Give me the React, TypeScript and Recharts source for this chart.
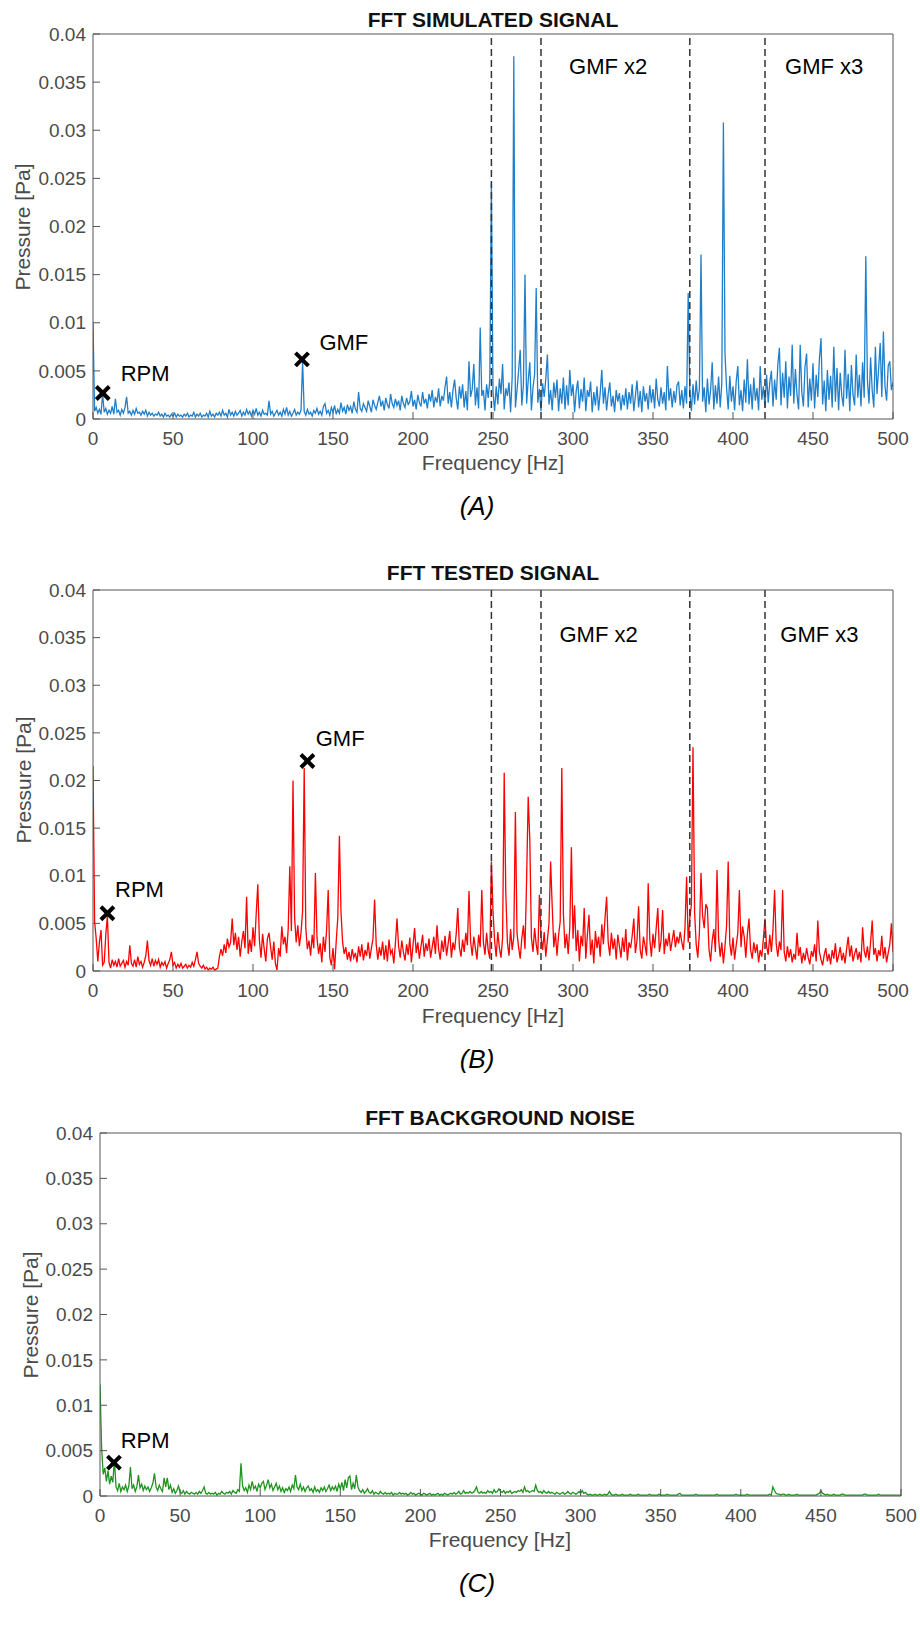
/**
 * FftPanels — three stacked FFT spectra (simulated, tested, background noise)
 * drawn with Recharts in a MATLAB-like boxed style.
 */

import { ComposedChart, Line, XAxis, YAxis, ReferenceLine, ReferenceDot } from "recharts";

const FONT = '"Liberation Sans", Arial, Helvetica, sans-serif';

// Spectra: one bin per Hz from 0 to 500 Hz, pressure in mPa (axis shows Pa).
const SIMULATED_MPA = [
  10.0, 0.8, 1.2, 0.6, 1.0, 0.5, 2.6, 0.7, 1.1, 0.5,
  0.9, 0.6, 1.3, 0.5, 2.1, 0.7, 0.9, 0.4, 1.0, 0.6,
  1.2, 2.3, 0.6, 0.8, 0.4, 0.9, 0.5, 1.1, 0.6, 0.7,
  0.4, 0.8, 0.5, 0.9, 0.3, 0.7, 0.4, 0.6, 0.3, 0.5,
  0.4, 0.7, 0.3, 0.5, 0.2, 0.6, 0.3, 0.4, 0.2, 0.5,
  0.3, 0.6, 0.2, 0.5, 0.3, 0.4, 0.2, 0.5, 0.3, 0.6,
  0.2, 0.4, 0.3, 0.7, 0.2, 0.5, 0.3, 0.6, 0.2, 0.4,
  0.3, 0.6, 0.2, 0.8, 0.3, 0.5, 0.2, 0.6, 0.4, 0.7,
  0.3, 0.9, 0.4, 0.6, 0.2, 1.0, 0.4, 0.7, 0.3, 0.8,
  0.4, 0.6, 0.9, 0.3, 0.7, 0.4, 1.0, 0.5, 0.8, 0.3,
  0.9, 0.5, 1.1, 0.4, 0.7, 0.3, 0.9, 0.5, 0.6, 0.4,
  1.9, 0.5, 0.8, 0.3, 0.6, 0.9, 0.4, 0.7, 0.3, 1.0,
  0.5, 1.2, 0.4, 0.8, 0.3, 0.6, 1.0, 0.4, 0.7, 0.5,
  0.9, 6.0, 0.8, 0.4, 1.0, 0.5, 0.7, 0.3, 0.9, 0.6,
  1.1, 0.5, 0.8, 0.4, 1.3, 1.6, 0.6, 0.9, 0.4, 1.2,
  0.7, 1.4, 0.5, 1.0, 0.6, 1.7, 0.8, 1.2, 0.5, 1.5,
  0.9, 1.3, 0.6, 1.8, 1.0, 0.7, 2.8, 1.1, 0.8, 1.6,
  1.2, 0.8, 1.9, 1.3, 0.7, 2.0, 1.4, 1.0, 1.7, 2.4,
  1.3, 1.9, 0.9, 2.2, 1.5, 1.1, 2.6, 1.6, 1.2, 2.1,
  1.4, 1.9, 0.9, 2.4, 1.6, 1.2, 2.2, 1.5, 1.8, 2.9,
  1.3, 2.0, 1.0, 2.5, 1.7, 1.3, 2.8, 1.6, 2.1, 1.1,
  2.6, 1.8, 3.0, 1.2, 2.3, 1.7, 3.2, 1.3, 2.4, 1.9,
  3.3, 4.4, 1.6, 2.8, 1.2, 3.0, 4.1, 2.2, 1.0, 3.4,
  2.1, 3.6, 1.2, 2.9, 0.9, 6.0, 2.3, 3.1, 5.7, 1.4,
  3.3, 1.1, 9.5, 2.4, 3.0, 0.9, 3.6, 2.2, 4.0, 24.5,
  2.8, 0.8, 3.4, 1.5, 4.2, 2.6, 5.7, 1.0, 3.2, 2.4,
  3.8, 0.7, 4.4, 37.7, 1.2, 3.0, 5.0, 7.2, 1.4, 3.5,
  15.0, 1.6, 4.0, 5.9, 0.9, 3.3, 4.6, 13.6, 1.7, 3.1,
  0.8, 3.7, 2.3, 4.2, 6.7, 1.5, 3.0, 0.9, 3.8, 2.2,
  4.1, 0.8, 3.2, 1.6, 4.3, 1.0, 3.5, 1.4, 5.1, 2.4,
  3.6, 0.7, 2.9, 4.0, 1.1, 3.1, 1.8, 4.3, 0.8, 3.0,
  2.3, 3.9, 0.7, 2.8, 1.4, 3.4, 0.9, 2.7, 5.1, 1.6,
  3.3, 0.9, 2.6, 3.8, 1.3, 2.4, 0.7, 3.0, 1.8, 2.7,
  0.9, 2.5, 1.4, 3.2, 1.0, 2.8, 1.6, 3.6, 0.8, 2.4,
  4.0, 1.2, 2.9, 0.7, 3.4, 1.8, 2.7, 1.0, 3.5, 1.7,
  3.1, 1.1, 4.2, 2.0, 1.3, 3.3, 1.6, 2.8, 0.9, 5.5,
  1.9, 3.2, 1.2, 2.9, 1.7, 3.5, 3.9, 1.4, 3.0, 1.1,
  3.4, 1.6, 13.1, 2.8, 0.8, 3.6, 1.5, 4.0, 1.9, 3.1,
  17.1, 1.8, 3.3, 0.7, 4.2, 1.5, 3.0, 5.9, 1.0, 3.5,
  1.6, 4.4, 1.2, 3.7, 30.8, 6.8, 3.2, 1.0, 4.5, 1.8,
  3.4, 0.9, 3.9, 5.5, 1.4, 3.0, 0.8, 4.1, 1.7, 6.2,
  1.5, 3.6, 1.0, 4.3, 1.9, 3.2, 0.9, 5.5, 2.0, 3.4,
  1.2, 4.6, 1.7, 3.8, 5.0, 1.3, 4.1, 2.0, 5.6, 7.4,
  1.4, 4.8, 2.2, 6.0, 1.1, 4.4, 2.4, 7.7, 1.6, 5.2,
  2.5, 1.0, 7.7, 2.8, 1.3, 5.4, 6.8, 1.2, 4.2, 1.9,
  5.8, 1.1, 4.6, 2.3, 6.2, 8.4, 1.5, 4.0, 0.8, 5.1,
  2.0, 4.5, 1.2, 7.5, 1.8, 5.3, 0.9, 4.8, 2.4, 1.3,
  7.2, 2.1, 4.7, 0.8, 5.6, 2.5, 1.4, 6.7, 2.2, 4.6,
  1.3, 5.9, 2.2, 16.9, 4.1, 1.6, 6.4, 3.0, 1.2, 7.5,
  2.6, 5.2, 7.9, 2.3, 9.1, 3.4, 1.9, 5.5, 6.0, 3.0,
  3.8,
];

const TESTED_MPA = [
  21.5, 5.2, 3.4, 1.0, 3.0, 4.3, 0.6, 0.9, 3.8, 5.8,
  0.9, 0.3, 1.2, 0.6, 1.0, 0.4, 1.3, 0.5, 0.8, 1.1,
  0.4, 1.0, 0.6, 2.7, 0.8, 0.5, 1.2, 0.4, 1.5, 0.7,
  1.0, 0.4, 0.9, 1.6, 3.2, 1.1, 0.6, 1.3, 0.5, 1.1,
  0.7, 1.2, 0.4, 0.9, 0.6, 1.0, 0.3, 0.8, 1.2, 2.0,
  0.6, 0.9, 0.3, 0.7, 0.4, 0.8, 0.3, 0.5, 0.7, 0.3,
  0.6, 0.4, 0.9, 0.5, 1.2, 2.0, 0.8, 0.5, 0.3, 0.6,
  0.2, 0.4, 0.1, 0.3, 0.2, 0.4, 0.1, 0.2, 0.3, 1.5,
  2.3, 1.6, 2.8, 1.9, 3.4, 2.5, 3.0, 5.5, 2.7, 4.0,
  2.2, 3.6, 1.5, 3.1, 4.2, 2.4, 7.8, 1.8, 3.3, 2.0,
  4.6, 2.6, 6.0, 9.1, 3.2, 1.4, 3.9, 2.3, 1.0, 3.4,
  4.0, 2.5, 1.2, 3.1, 0.8, 0.1, 2.4, 1.5, 4.7, 2.8,
  3.6, 1.9, 4.4, 11.0, 4.2, 20.0, 5.6, 3.0, 4.8, 2.6,
  4.0, 6.3, 21.3, 4.5, 2.3, 3.2, 1.6, 3.8, 2.4, 10.3,
  3.5, 1.8, 2.9, 0.9, 3.6, 2.0, 4.3, 8.5, 1.4, 0.6,
  2.4, 0.2, 3.1, 5.6, 14.2, 6.2, 3.0, 1.8, 2.5, 1.2,
  2.0, 1.0, 2.3, 1.4, 1.9, 0.9, 2.6, 1.5, 2.8, 1.1,
  2.2, 1.6, 3.0, 1.3, 2.4, 3.4, 7.5, 2.8, 1.2, 2.5,
  1.6, 3.1, 1.2, 2.7, 1.0, 3.3, 1.8, 2.2, 0.8, 2.9,
  5.5, 2.6, 1.4, 3.2, 2.0, 1.1, 2.8, 1.7, 3.5, 0.9,
  2.7, 4.5, 1.9, 3.0, 1.3, 2.6, 3.8, 1.5, 2.9, 2.1,
  3.4, 1.4, 2.5, 3.6, 1.8, 4.8, 2.3, 1.2, 3.2, 2.0,
  3.7, 1.6, 2.9, 4.2, 1.4, 3.0, 2.2, 3.9, 6.6, 2.5,
  1.5, 3.3, 2.0, 4.0, 2.7, 8.4, 3.1, 1.6, 3.6, 2.4,
  1.2, 3.8, 2.5, 8.5, 3.0, 1.7, 4.0, 2.2, 1.3, 11.5,
  6.3, 3.2, 1.5, 4.1, 2.4, 1.4, 3.5, 20.8, 8.2, 3.0,
  1.6, 4.4, 2.2, 3.6, 16.7, 4.0, 2.5, 1.3, 3.4, 4.8,
  2.3, 9.6, 18.3, 13.8, 3.5, 2.0, 4.5, 2.8, 1.7, 8.0,
  3.6, 2.2, 4.1, 1.5, 3.3, 5.0, 11.5, 6.8, 2.5, 4.0,
  1.6, 3.8, 5.2, 21.3, 6.0, 2.4, 3.9, 1.8, 4.6, 13.0,
  3.4, 6.9, 2.1, 4.3, 1.0, 3.7, 2.6, 6.6, 1.3, 3.8,
  5.9, 1.7, 3.3, 0.8, 4.2, 2.4, 3.6, 1.5, 4.9, 2.8,
  5.5, 7.8, 3.0, 1.6, 4.0, 2.3, 3.4, 1.2, 3.8, 2.6,
  1.4, 3.5, 2.0, 4.4, 1.1, 3.0, 2.4, 3.7, 5.5, 1.9,
  3.2, 6.8, 2.2, 1.3, 3.6, 2.7, 1.6, 9.2, 3.3, 1.5,
  3.9, 2.4, 4.5, 6.6, 2.0, 3.1, 6.4, 1.8, 3.4, 2.6,
  4.0, 2.1, 3.2, 4.3, 2.5, 3.6, 2.9, 4.1, 3.0, 2.2,
  4.6, 9.9, 3.0, 5.5, 7.0, 23.5, 6.2, 2.8, 1.4, 4.0,
  10.3, 5.8, 4.5, 7.0, 6.6, 2.3, 1.0, 3.2, 4.4, 2.0,
  10.6, 3.4, 1.5, 3.0, 0.8, 2.6, 4.8, 11.5, 2.9, 1.6,
  3.5, 1.2, 2.7, 4.0, 8.5, 2.5, 4.7, 3.6, 1.4, 3.9,
  5.5, 2.2, 1.3, 3.0, 1.9, 2.8, 0.9, 2.2, 1.5, 3.4,
  5.5, 2.6, 1.7, 3.8, 2.0, 4.4, 8.5, 2.9, 1.5, 3.1,
  2.2, 8.5, 2.0, 1.0, 2.6, 1.4, 2.3, 0.9, 1.8, 1.2,
  4.0, 1.6, 2.5, 0.8, 1.9, 1.1, 2.4, 1.4, 0.7, 2.1,
  1.5, 2.8, 1.0, 5.3, 2.0, 1.2, 0.6, 1.7, 2.4, 1.0,
  1.8, 0.7, 2.2, 1.3, 2.9, 0.9, 1.6, 2.5, 1.1, 1.9,
  0.8, 2.3, 3.6, 1.5, 2.7, 1.0, 1.8, 2.4, 1.2, 2.0,
  0.9, 4.6, 2.1, 1.4, 2.6, 1.1, 3.0, 5.3, 1.7, 2.4,
  1.0, 2.2, 1.6, 3.7, 1.3, 2.5, 0.9, 1.9, 2.8, 5.0,
  2.0,
];

const BACKGROUND_MPA = [
  12.3, 5.3, 2.4, 3.1, 1.6, 2.8, 1.3, 2.2, 1.5, 4.0,
  1.0, 0.6, 1.4, 0.5, 1.0, 0.7, 1.2, 0.5, 1.1, 3.2,
  0.8, 1.2, 0.5, 1.0, 2.3, 0.9, 1.3, 0.6, 1.1, 0.7,
  1.0, 0.5, 0.9, 1.4, 2.5, 1.0, 0.6, 1.2, 0.8, 0.5,
  2.0, 1.0, 2.0, 0.7, 1.2, 0.4, 0.8, 0.3, 0.6, 1.1,
  0.4, 0.3, 0.6, 0.2, 0.5, 0.3, 0.2, 0.4, 0.3, 0.2,
  0.4, 0.2, 0.5, 0.3, 0.6, 1.0, 0.3, 0.2, 0.4, 0.2,
  0.3, 0.2, 0.4, 0.1, 0.3, 0.2, 0.5, 0.3, 0.2, 0.4,
  0.3, 0.5, 0.2, 0.6, 0.4, 0.3, 0.7, 0.5, 3.6, 1.1,
  0.6, 0.9, 0.4, 1.2, 0.7, 1.6, 0.8, 1.1, 0.5, 1.3,
  0.9, 1.4, 1.6, 0.7, 1.2, 1.8, 0.9, 1.3, 0.6, 1.0,
  1.4, 0.7, 1.1, 0.5, 0.9, 0.4, 0.8, 0.6, 1.0, 0.5,
  1.2, 0.8, 2.3, 1.0, 0.7, 1.3, 0.6, 1.0, 0.5, 0.9,
  1.1, 0.6, 0.8, 0.4, 1.0, 0.5, 0.7, 0.4, 0.9, 0.6,
  1.0, 0.5, 0.8, 1.2, 0.6, 1.0, 0.7, 1.1, 0.5, 1.3,
  0.8, 1.5, 0.6, 1.8, 0.9, 2.0, 2.2, 0.7, 1.4, 0.8,
  2.3, 1.0, 0.6, 0.4, 0.7, 0.3, 0.5, 0.8, 0.4, 0.3,
  0.6, 0.2, 0.4, 0.3, 0.2, 0.5, 0.3, 0.2, 0.4, 0.2,
  0.3, 0.2, 0.4, 0.1, 0.3, 0.2, 0.2, 0.4, 0.2, 0.3,
  0.2, 0.3, 0.1, 0.2, 0.4, 0.2, 0.3, 0.1, 0.2, 0.3,
  0.2, 0.1, 0.3, 0.2, 0.1, 0.2, 0.3, 0.1, 0.2, 0.1,
  0.2, 0.3, 0.1, 0.2, 0.1, 0.3, 0.2, 0.1, 0.2, 0.3,
  0.2, 0.4, 0.2, 0.3, 0.5, 0.2, 0.3, 0.6, 0.3, 0.4,
  0.3, 0.5, 0.3, 0.4, 0.6, 1.0, 0.4, 0.3, 0.5, 0.3,
  0.4, 0.3, 0.6, 0.4, 0.5, 0.3, 0.7, 0.4, 0.5, 0.8,
  0.5, 0.4, 0.6, 0.3, 0.5, 0.4, 0.6, 0.3, 0.4, 0.5,
  0.4, 0.6, 0.5, 0.7, 0.4, 1.0, 0.5, 0.6, 0.4, 0.5,
  0.6, 0.5, 1.2, 0.6, 0.4, 0.5, 0.3, 0.6, 0.4, 0.3,
  0.5, 0.3, 0.4, 0.3, 0.2, 0.4, 0.3, 0.2, 0.3, 0.4,
  0.2, 0.3, 0.5, 0.3, 0.2, 0.4, 0.3, 0.2, 0.3, 0.5,
  0.3, 0.6, 0.3, 0.4, 0.2, 0.1, 0.2, 0.1, 0.1, 0.2,
  0.1, 0.1, 0.2, 0.1, 0.1, 0.2, 0.1, 0.2, 0.5, 0.2,
  0.1, 0.1, 0.2, 0.1, 0.1, 0.1, 0.2, 0.1, 0.1, 0.1,
  0.1, 0.2, 0.1, 0.1, 0.1, 0.1, 0.2, 0.1, 0.1, 0.1,
  0.1, 0.1, 0.1, 0.2, 0.1, 0.1, 0.1, 0.1, 0.1, 0.2,
  0.1, 0.1, 0.1, 0.1, 0.2, 0.1, 0.1, 0.1, 0.1, 0.1,
  0.1, 0.2, 0.3, 0.1, 0.1, 0.1, 0.1, 0.1, 0.1, 0.1,
  0.1, 0.1, 0.2, 0.1, 0.1, 0.1, 0.1, 0.1, 0.1, 0.1,
  0.1, 0.1, 0.1, 0.1, 0.1, 0.2, 0.1, 0.1, 0.1, 0.1,
  0.1, 0.1, 0.1, 0.1, 0.1, 0.1, 0.1, 0.2, 0.1, 0.1,
  0.1, 0.1, 0.1, 0.1, 0.2, 0.1, 0.1, 0.1, 0.1, 0.1,
  0.1, 0.1, 0.1, 0.1, 0.1, 0.1, 0.1, 0.1, 0.2, 0.1,
  1.0, 0.6, 0.3, 0.2, 0.2, 0.1, 0.2, 0.2, 0.1, 0.1,
  0.2, 0.1, 0.1, 0.1, 0.1, 0.2, 0.1, 0.1, 0.1, 0.1,
  0.1, 0.1, 0.1, 0.1, 0.1, 0.1, 0.1, 0.1, 0.2, 0.3,
  0.6, 0.3, 0.2, 0.1, 0.2, 0.1, 0.1, 0.1, 0.2, 0.1,
  0.1, 0.1, 0.1, 0.2, 0.2, 0.1, 0.1, 0.1, 0.1, 0.1,
  0.1, 0.1, 0.1, 0.1, 0.1, 0.1, 0.1, 0.2, 0.2, 0.1,
  0.1, 0.1, 0.1, 0.1, 0.1, 0.1, 0.2, 0.1, 0.1, 0.1,
  0.1, 0.1, 0.1, 0.1, 0.1, 0.1, 0.1, 0.1, 0.1, 0.1,
  0.1,
];

const FREQ_TICKS = [0, 50, 100, 150, 200, 250, 300, 350, 400, 450, 500];
const PRESSURE_TICKS = [0, 5, 10, 15, 20, 25, 30, 35, 40]; // mPa

// Band limits around GMF x2 and GMF x3 (Hz).
const GMF_BANDS = [249, 280, 373, 420];

type Marker = { f: number; p: number };
type Note = { f: number; p: number; text: string; anchor: "start" | "middle" };

const SIM_MARKERS: Marker[] = [{ f: 6.1, p: 2.7 }, { f: 130.6, p: 6.2 }];
const SIM_NOTES: Note[] = [
  { f: 17.3, p: 4.75, text: "RPM", anchor: "start" },
  { f: 141.5, p: 8.0, text: "GMF", anchor: "start" },
  { f: 322, p: 36.6, text: "GMF x2", anchor: "middle" },
  { f: 457, p: 36.6, text: "GMF x3", anchor: "middle" },
];

const TEST_MARKERS: Marker[] = [{ f: 9.0, p: 6.06 }, { f: 134, p: 22.05 }];
const TEST_NOTES: Note[] = [
  { f: 13.75, p: 8.57, text: "RPM", anchor: "start" },
  { f: 139.2, p: 24.4, text: "GMF", anchor: "start" },
  { f: 316, p: 35.3, text: "GMF x2", anchor: "middle" },
  { f: 454, p: 35.3, text: "GMF x3", anchor: "middle" },
];

const BG_MARKERS: Marker[] = [{ f: 8.7, p: 3.67 }];
const BG_NOTES: Note[] = [{ f: 12.9, p: 6.17, text: "RPM", anchor: "start" }];

const toSeries = (values: number[]) => values.map((p, f) => ({ f, p }));

function Cross({ cx, cy }: { cx?: number; cy?: number }) {
  if (cx == null || cy == null) return null;
  const s = 6.5;
  return (
    <g stroke="#000" strokeWidth={4}>
      <line x1={cx - s} y1={cy - s} x2={cx + s} y2={cy + s} />
      <line x1={cx - s} y1={cy + s} x2={cx + s} y2={cy - s} />
    </g>
  );
}

interface Rect {
  left: number;
  top: number;
  right: number;
  bottom: number;
}

interface PanelProps {
  values: number[];
  color: string;
  plot: Rect;
  markers: Marker[];
  notes: Note[];
  bands?: number[];
}

const AXIS_W = 93;
const TOP_PAD = 34;
const BOTTOM_H = 40;
const TICK_FONT = { fill: "#4a4a4a", fontSize: 19, fontFamily: FONT };

function Panel({ values, color, plot, markers, notes, bands = [] }: PanelProps) {
  const height = plot.bottom - plot.top + TOP_PAD + BOTTOM_H;
  const data = toSeries(values);

  return (
    <div style={{ position: "absolute", left: 0, top: plot.top - TOP_PAD }}>
      <ComposedChart
        width={920}
        height={height}
        data={data}
        margin={{ top: TOP_PAD - 1, left: plot.left - AXIS_W, right: 920 - plot.right - 1, bottom: 0 }}
      >
        <XAxis
          dataKey="f"
          type="number"
          domain={[0, 500]}
          ticks={FREQ_TICKS}
          interval={0}
          height={BOTTOM_H}
          stroke="#555"
          tickSize={-7}
          tickMargin={20}
          tick={TICK_FONT}
          allowDataOverflow
        />
        <XAxis
          xAxisId="top"
          orientation="top"
          dataKey="f"
          type="number"
          domain={[0, 500]}
          ticks={FREQ_TICKS}
          interval={0}
          height={1}
          stroke="#555"
          tickSize={-7}
          tick={false}
          allowDataOverflow
        />
        <YAxis
          type="number"
          domain={[0, 40]}
          ticks={PRESSURE_TICKS}
          interval={0}
          width={AXIS_W}
          stroke="#555"
          tickSize={-7}
          tickMargin={14}
          tick={TICK_FONT}
          tickFormatter={(v: number) => String(v / 1000)}
          allowDataOverflow
        />
        <YAxis
          yAxisId="right"
          orientation="right"
          type="number"
          domain={[0, 40]}
          ticks={PRESSURE_TICKS}
          interval={0}
          width={1}
          stroke="#555"
          tickSize={-7}
          tick={false}
          allowDataOverflow
        />
        <Line
          type="linear"
          dataKey="p"
          stroke={color}
          strokeWidth={1.3}
          dot={false}
          isAnimationActive={false}
        />
        {bands.map((f) => (
          <ReferenceLine key={f} x={f} stroke="#333" strokeWidth={1.5} strokeDasharray="7 4" />
        ))}
        {markers.map((m, i) => (
          <ReferenceDot key={`m${i}`} x={m.f} y={m.p} r={6} shape={(props: any) => <Cross cx={props.cx} cy={props.cy} />} />
        ))}
        {notes.map((n, i) => (
          <ReferenceDot
            key={`n${i}`}
            x={n.f}
            y={n.p}
            r={1}
            shape={(props: any) => (
              <text
                x={props.cx}
                y={props.cy}
                textAnchor={n.anchor}
                dominantBaseline="central"
                fontSize={22}
                fontFamily={FONT}
                fill="#000"
              >
                {n.text}
              </text>
            )}
          />
        ))}
      </ComposedChart>
    </div>
  );
}

function Caption({
  x,
  y,
  text,
  style,
  rotate = false,
}: {
  x: number;
  y: number;
  text: string;
  style?: React.CSSProperties;
  rotate?: boolean;
}) {
  return (
    <div
      style={{
        position: "absolute",
        left: x,
        top: y,
        transform: `translate(-50%, -50%)${rotate ? " rotate(-90deg)" : ""}`,
        whiteSpace: "nowrap",
        fontFamily: FONT,
        lineHeight: 1,
        ...style,
      }}
    >
      {text}
    </div>
  );
}

const TITLE_STYLE: React.CSSProperties = { fontSize: 21, fontWeight: "bold", color: "#111" };
const LABEL_STYLE: React.CSSProperties = { fontSize: 21, color: "#4a4a4a" };
const TAG_STYLE: React.CSSProperties = { fontSize: 26, fontStyle: "italic", color: "#000" };

const PLOT_A: Rect = { left: 93, top: 34, right: 893, bottom: 419 };
const PLOT_B: Rect = { left: 93, top: 590, right: 893, bottom: 971 };
const PLOT_C: Rect = { left: 100, top: 1133, right: 901, bottom: 1496 };

export default function App() {
  return (
    <div style={{ position: "absolute", left: 0, top: 0, width: 920, height: 1629, background: "#fff" }}>
      <Panel values={SIMULATED_MPA} color="#1f7fcb" plot={PLOT_A} markers={SIM_MARKERS} notes={SIM_NOTES} bands={GMF_BANDS} />
      <Caption x={493} y={19} text="FFT SIMULATED SIGNAL" style={TITLE_STYLE} />
      <Caption x={493} y={462} text="Frequency [Hz]" style={LABEL_STYLE} />
      <Caption x={22} y={227} text="Pressure [Pa]" style={LABEL_STYLE} rotate />
      <Caption x={477} y={506} text="(A)" style={TAG_STYLE} />

      <Panel values={TESTED_MPA} color="#ff0000" plot={PLOT_B} markers={TEST_MARKERS} notes={TEST_NOTES} bands={GMF_BANDS} />
      <Caption x={493} y={572} text="FFT TESTED SIGNAL" style={TITLE_STYLE} />
      <Caption x={493} y={1015} text="Frequency [Hz]" style={LABEL_STYLE} />
      <Caption x={23} y={780} text="Pressure [Pa]" style={LABEL_STYLE} rotate />
      <Caption x={477} y={1059} text="(B)" style={TAG_STYLE} />

      <Panel values={BACKGROUND_MPA} color="#1e951e" plot={PLOT_C} markers={BG_MARKERS} notes={BG_NOTES} />
      <Caption x={500} y={1117} text="FFT BACKGROUND NOISE" style={TITLE_STYLE} />
      <Caption x={500} y={1539} text="Frequency [Hz]" style={LABEL_STYLE} />
      <Caption x={30} y={1315} text="Pressure [Pa]" style={LABEL_STYLE} rotate />
      <Caption x={477} y={1583} text="(C)" style={TAG_STYLE} />
    </div>
  );
}
